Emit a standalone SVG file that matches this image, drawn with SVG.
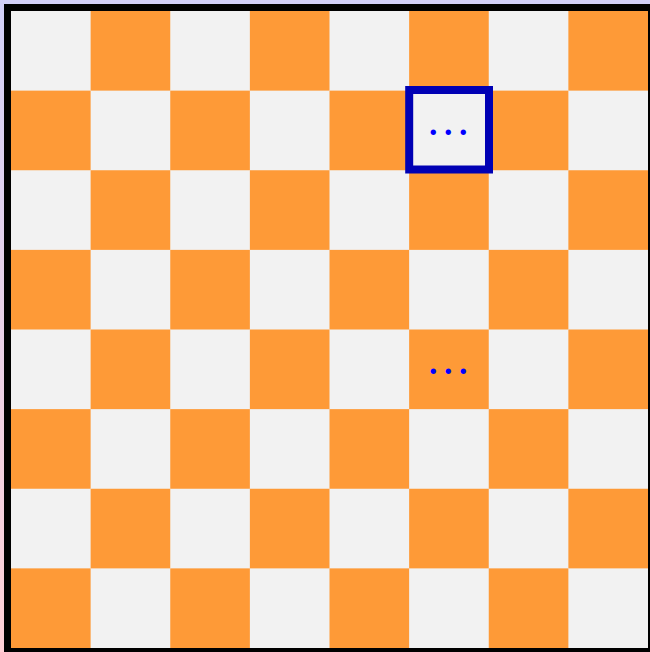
<svg xmlns="http://www.w3.org/2000/svg" width="650" height="652" viewBox="0 0 650 652">
<defs>
<linearGradient id="bg" x1="0" y1="0" x2="0" y2="1">
<stop offset="0" stop-color="#d2d0f8"/>
<stop offset="1" stop-color="#ffd0d6"/>
</linearGradient>
<style>
.l{fill:#f2f2f2}
.o{fill:#fe9a37}
.dots{font-family:"Liberation Sans",Arial,sans-serif;font-size:20px;fill:#0000ff;letter-spacing:8px}
</style>
</defs>
<rect x="0" y="0" width="650" height="652" fill="url(#bg)"/>
<rect x="4" y="4" width="660" height="660" fill="#000"/>
<g id="board">
<rect class="l" x="11" y="11" width="637" height="637"/>
<g class="o">
<rect x="90.625" y="11" width="79.625" height="79.625"/><rect x="249.875" y="11" width="79.625" height="79.625"/><rect x="409.125" y="11" width="79.625" height="79.625"/><rect x="568.375" y="11" width="79.625" height="79.625"/>
<rect x="11" y="90.625" width="79.625" height="79.625"/><rect x="170.25" y="90.625" width="79.625" height="79.625"/><rect x="329.5" y="90.625" width="79.625" height="79.625"/><rect x="488.75" y="90.625" width="79.625" height="79.625"/>
<rect x="90.625" y="170.25" width="79.625" height="79.625"/><rect x="249.875" y="170.25" width="79.625" height="79.625"/><rect x="409.125" y="170.25" width="79.625" height="79.625"/><rect x="568.375" y="170.25" width="79.625" height="79.625"/>
<rect x="11" y="249.875" width="79.625" height="79.625"/><rect x="170.25" y="249.875" width="79.625" height="79.625"/><rect x="329.5" y="249.875" width="79.625" height="79.625"/><rect x="488.75" y="249.875" width="79.625" height="79.625"/>
<rect x="90.625" y="329.5" width="79.625" height="79.625"/><rect x="249.875" y="329.5" width="79.625" height="79.625"/><rect x="409.125" y="329.5" width="79.625" height="79.625"/><rect x="568.375" y="329.5" width="79.625" height="79.625"/>
<rect x="11" y="409.125" width="79.625" height="79.625"/><rect x="170.25" y="409.125" width="79.625" height="79.625"/><rect x="329.5" y="409.125" width="79.625" height="79.625"/><rect x="488.75" y="409.125" width="79.625" height="79.625"/>
<rect x="90.625" y="488.75" width="79.625" height="79.625"/><rect x="249.875" y="488.75" width="79.625" height="79.625"/><rect x="409.125" y="488.75" width="79.625" height="79.625"/><rect x="568.375" y="488.75" width="79.625" height="79.625"/>
<rect x="11" y="568.375" width="79.625" height="79.625"/><rect x="170.25" y="568.375" width="79.625" height="79.625"/><rect x="329.5" y="568.375" width="79.625" height="79.625"/><rect x="488.75" y="568.375" width="79.625" height="79.625"/>
</g>
</g>
<g id="highlight">
<rect x="409.2" y="90" width="79.8" height="79.5" fill="none" stroke="#0000b4" stroke-width="8"/>
<text class="dots" x="429.8" y="139">•••</text>
</g>
<g id="ellipsis">
<text class="dots" x="429.8" y="378.3">•••</text>
</g>
</svg>
